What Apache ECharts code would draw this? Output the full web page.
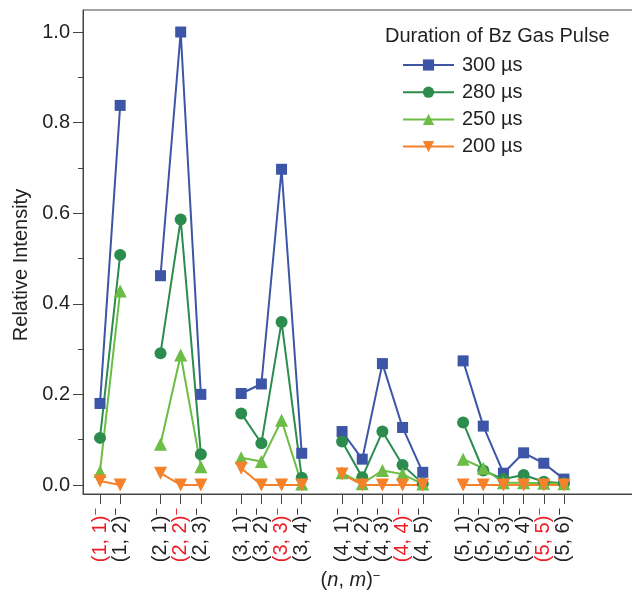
<!DOCTYPE html>
<html>
<head>
<meta charset="utf-8">
<script src="https://cdn.jsdelivr.net/npm/echarts@6/dist/echarts.min.js"></script>
<style>html,body{margin:0;padding:0;background:#fff}#c{width:632px;height:600px}</style>
</head>
<body>
<div id="c"></div>
<script>
// Categories (empty strings are gaps between cluster groups)
const categories = ['(1, 1)','(1, 2)','','(2, 1)','(2, 2)','(2, 3)','','(3, 1)','(3, 2)','(3, 3)','(3, 4)','','(4, 1)','(4, 2)','(4, 3)','(4, 4)','(4, 5)','','(5, 1)','(5, 2)','(5, 3)','(5, 4)','(5, 5)','(5, 6)'];
const highlighted = ['(1, 1)','(2, 2)','(3, 3)','(4, 4)','(5, 5)'];
const seriesNames = ['300 µs','280 µs','250 µs','200 µs'];
const s300 = [0.180,0.838,null,0.462,1.000,0.200,null,0.202,0.223,0.697,0.070,null,0.118,0.057,0.268,0.127,0.028,null,0.274,0.130,0.026,0.071,0.048,0.013];
const s280 = [0.104,0.508,null,0.291,0.586,0.068,null,0.158,0.092,0.360,0.016,null,0.096,0.017,0.118,0.044,0.003,null,0.138,0.032,0.013,0.022,0.007,0.004];
const s250 = [0.030,0.428,null,0.090,0.287,0.040,null,0.060,0.052,0.143,0.002,null,0.027,0.003,0.032,0.024,0.002,null,0.057,0.037,0.005,0.005,0.004,0.003];
const s200 = [0.009,0.000,null,0.026,0.000,0.000,null,0.037,0.000,0.000,0.000,null,0.024,0.000,0.000,0.000,0.000,null,0.000,0.000,0.000,0.000,0.000,0.000];
const yMajorTicks = [0,0.2,0.4,0.6,0.8,1.0];
const yMinorTicks = [0.1,0.3,0.5,0.7,0.9];
const legendTitle = 'Duration of Bz Gas Pulse';
const yTitle = 'Relative Intensity';

const colors = ['#3d55a6','#2b8c4e','#6bbd45','#f5812b'];
const symbols = ['rect','circle','triangle','path://M0,0 L10,0 L5,9 Z'];
const sizes = [11,12,13,13];
const values = [s300,s280,s250,s200];
const textColor = '#231f20';
const FONT = 'Liberation Sans, Arial, sans-serif';

const tickPositions = categories.map((c,i)=>c?i:null).filter(v=>v!==null);

const chart = echarts.init(document.getElementById('c'), null, {renderer:'canvas'});
const option = {
  animation:false,
  textStyle:{fontFamily:FONT},
  grid:{left:83, width:555, top:10, height:484, outerBoundsMode:'none', containLabel:false,
        show:true, borderColor:'#444', borderWidth:1},
  title:{text:legendTitle, left:380, top:21, textStyle:{fontSize:20, fontWeight:'normal', color:textColor, fontFamily:FONT}},
  legend:{
    orient:'vertical', left:397, top:50, itemWidth:51, itemHeight:14, itemGap:7.2,
    textStyle:{fontSize:20, color:textColor, lineHeight:20, fontFamily:FONT, padding:[0,0,0,3]},
    data:seriesNames
  },
  xAxis:{
    type:'value', min:-0.843, max:26.67,
    name:'{a|(}{i|n}{a|, }{i|m}{a|)}{s|−}',
    nameLocation:'middle', nameGap:68,
    nameTextStyle:{padding:[0,20,0,0], rich:{
      a:{fontSize:20,color:textColor,fontFamily:FONT},
      i:{fontSize:20,color:textColor,fontStyle:'italic',fontFamily:FONT},
      s:{fontSize:13,color:textColor,verticalAlign:'top',fontFamily:FONT}
    }},
    axisLine:{show:true, onZero:false, lineStyle:{color:'#444',width:1}},
    splitLine:{show:false},
    axisTick:{show:true, customValues:tickPositions, length:10, lineStyle:{color:'#444'}},
    axisLabel:{
      customValues:tickPositions, rotate:90, margin:14,
      formatter:function(v){
        const c = categories[Math.round(v)] || '';
        const red = highlighted.indexOf(c) >= 0;
        return red ? '{r|'+c+'}{rs|−}' : '{k|'+c+'}{ks|−}';
      },
      rich:{
        r:{fontSize:20,color:'#ed1c24',fontFamily:FONT},
        rs:{fontSize:13,color:'#ed1c24',verticalAlign:'top',fontFamily:FONT},
        k:{fontSize:20,color:textColor,fontFamily:FONT},
        ks:{fontSize:13,color:textColor,verticalAlign:'top',fontFamily:FONT}
      }
    }
  },
  yAxis:[{
    type:'value', min:-0.0199, max:1.0486,
    name:yTitle, nameLocation:'middle', nameGap:52,
    nameTextStyle:{fontSize:20, color:textColor, padding:[0,26,0,0], fontFamily:FONT},
    axisLine:{show:true, onZero:false, lineStyle:{color:'#444',width:1}},
    splitLine:{show:false},
    axisTick:{show:true, customValues:yMajorTicks, length:10, lineStyle:{color:'#444'}},
    axisLabel:{customValues:yMajorTicks, fontSize:20, color:textColor, margin:13,
      formatter:function(v){return v.toFixed(1);}}
  },{
    type:'value', min:-0.0199, max:1.0486, position:'left', offset:0,
    axisLine:{show:false, onZero:false}, splitLine:{show:false}, axisLabel:{show:false},
    axisTick:{show:true, customValues:yMinorTicks, length:5, lineStyle:{color:'#444'}}
  }],
  series: values.map((arr,k)=>({
    name:seriesNames[k], type:'line', connectNulls:false,
    symbol:symbols[k], symbolSize:sizes[k], showSymbol:true,
    color:colors[k],
    lineStyle:{width:2, color:colors[k]},
    itemStyle:{color:colors[k], borderWidth:0},
    data: arr.map((v,i)=>[i, v===null ? '-' : v])
  }))
};
chart.setOption(option);
</script>
</body>
</html>
